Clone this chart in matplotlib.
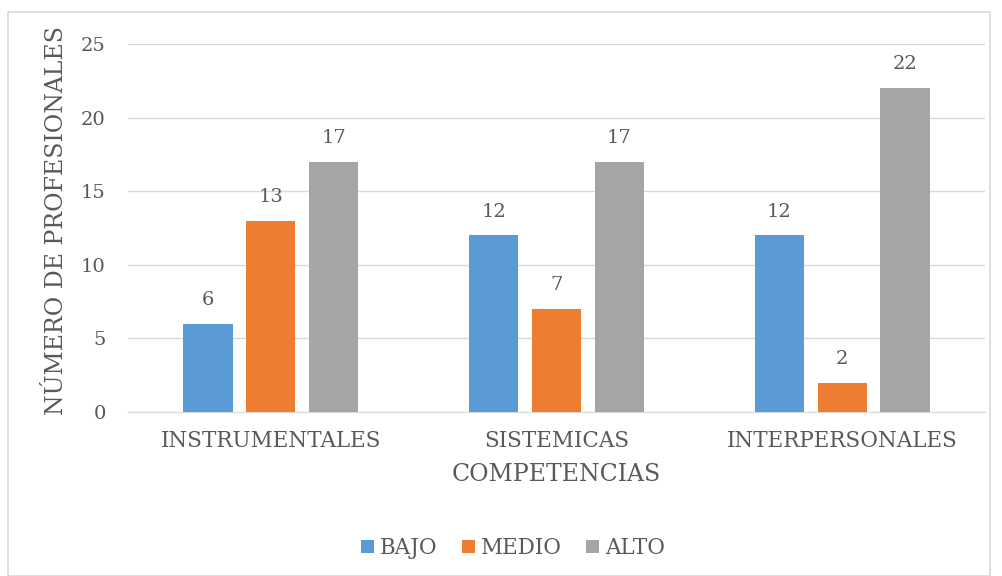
import matplotlib
matplotlib.use("Agg")
import matplotlib.pyplot as plt
import numpy as np
from matplotlib.patches import Rectangle

categories = ["INSTRUMENTALES", "SISTEMICAS", "INTERPERSONALES"]
series_names = ["BAJO", "MEDIO", "ALTO"]
bajo = [6, 12, 12]
medio = [13, 7, 2]
alto = [17, 17, 22]
yticks = [0, 5, 10, 15, 20, 25]

colors = ["#5B9BD5", "#ED7D31", "#A5A5A5"]
txt = "#595959"
plt.rcParams['font.family'] = ['DejaVu Serif']

fig = plt.figure(figsize=(10.03, 5.76), dpi=100)
fig.patches.append(Rectangle((8/1003, 0), 982/1003, 1 - 12/576, transform=fig.transFigure,
                             fill=False, edgecolor="#D9D9D9", linewidth=1.2))
ax = fig.add_axes([128/1003, 1 - 412/576, 857/1003, 368/576])

x = np.arange(len(categories))
w = 0.172
step = 0.22
for i, (vals, name) in enumerate(zip([bajo, medio, alto], series_names)):
    bars = ax.bar(x + (i - 1) * step, vals, w, color=colors[i], label=name, zorder=3)
    for b, v in zip(bars, vals):
        ax.text(b.get_x() + b.get_width() / 2, v + 1.0, str(v), ha="center", va="bottom",
                fontsize=14, color=txt)

ax.set_xlim(-0.5, 2.5)
ax.set_ylim(0, 25)
ax.set_yticks(yticks)
ax.set_xticks(x)
ax.set_xticklabels(categories)
ax.tick_params(axis="y", length=0, labelsize=14, colors=txt, pad=16)
ax.tick_params(axis="x", length=0, labelsize=15.5, colors=txt, pad=13)
ax.grid(axis="y", color="#D9D9D9", linewidth=1, zorder=0)
for s in ["top", "right", "left"]:
    ax.spines[s].set_visible(False)
ax.spines["bottom"].set_color("#D9D9D9")
ax.set_xlabel("COMPETENCIAS", fontsize=17, color=txt, labelpad=8)
ax.set_ylabel("NÚMERO DE PROFESIONALES", fontsize=17, color=txt)
ax.yaxis.set_label_coords(-0.07, 0.52)

leg = fig.legend(loc="center", bbox_to_anchor=(513/1003, 1 - 548/576), ncol=3, frameon=False,
                 fontsize=15.5, handlelength=0.6, handleheight=0.6, handletextpad=0.3,
                 columnspacing=1.1, labelcolor=txt)
fig.savefig("out.png", dpi=100)
